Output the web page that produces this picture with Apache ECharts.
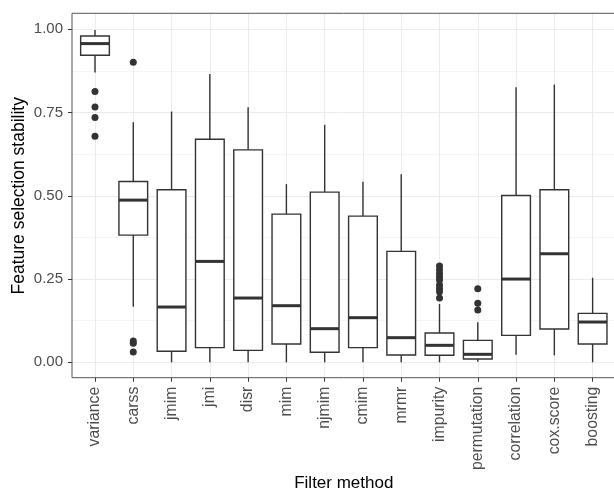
<!DOCTYPE html>
<html>
<head>
<meta charset="utf-8">
<script src="https://cdn.jsdelivr.net/npm/echarts@6/dist/echarts.min.js"></script>
<style>
  html, body { margin: 0; padding: 0; background: #fff; }
  #chart { width: 614px; height: 489px; }
</style>
</head>
<body>
<div id="chart"></div>
<script>
// filter methods on the x axis
var categories = ['variance', 'carss', 'jmim', 'jmi', 'disr', 'mim', 'njmim', 'cmim', 'mrmr',
  'impurity', 'permutation', 'correlation', 'cox.score', 'boosting']

// box statistics
var whiskerLow = [0.870, 0.167, 0.000, 0.000, 0.000, 0.000, 0.000, 0.000, 0.000, 0.000, 0.002, 0.023, 0.021, 0.000]
var lowerQuartile = [0.922, 0.382, 0.033, 0.044, 0.036, 0.055, 0.030, 0.044, 0.022, 0.021, 0.010, 0.081, 0.100, 0.055]
var medians = [0.957, 0.487, 0.166, 0.303, 0.193, 0.170, 0.101, 0.134, 0.074, 0.051, 0.024, 0.250, 0.326, 0.121]
var upperQuartile = [0.980, 0.543, 0.518, 0.670, 0.638, 0.445, 0.511, 0.439, 0.333, 0.088, 0.066, 0.501, 0.518, 0.147]
var whiskerHigh = [0.998, 0.721, 0.753, 0.866, 0.766, 0.535, 0.713, 0.542, 0.565, 0.175, 0.120, 0.826, 0.834, 0.254]

// outliers: category name and value
var outlierMethod = ['variance', 'variance', 'variance', 'variance', 'carss', 'carss', 'carss', 'carss',
  'impurity', 'impurity', 'impurity', 'impurity', 'impurity', 'impurity', 'impurity', 'impurity', 'impurity',
  'permutation', 'permutation', 'permutation']
var outlierValue = [0.813, 0.767, 0.735, 0.679, 0.901, 0.064, 0.057, 0.031,
  0.289, 0.278, 0.267, 0.256, 0.247, 0.232, 0.222, 0.212, 0.193,
  0.221, 0.177, 0.157]

var yTicks = [0, 0.25, 0.5, 0.75, 1]

var lineColor = '#333333'
var fontFamily = '"Liberation Sans", Arial, Helvetica, sans-serif'

var boxData = categories.map(function (c, i) {
  return [i, whiskerLow[i], lowerQuartile[i], medians[i], upperQuartile[i], whiskerHigh[i]]
})
var outlierData = outlierMethod.map(function (m, i) {
  return [categories.indexOf(m), outlierValue[i]]
})

function renderBox (params, api) {
  var idx = api.value(0)
  var band = api.size([1, 0])[0]
  var half = band * 0.375
  var x = api.coord([idx, 0])[0]
  var yLow = api.coord([idx, api.value(1)])[1]
  var yQ1 = api.coord([idx, api.value(2)])[1]
  var yMed = api.coord([idx, api.value(3)])[1]
  var yQ3 = api.coord([idx, api.value(4)])[1]
  var yHigh = api.coord([idx, api.value(5)])[1]
  var stroke = { stroke: lineColor, lineWidth: 1.4, fill: null }
  return {
    type: 'group',
    children: [
      { type: 'line', shape: { x1: x, y1: yQ3, x2: x, y2: yHigh }, style: stroke },
      { type: 'line', shape: { x1: x, y1: yQ1, x2: x, y2: yLow }, style: stroke },
      { type: 'rect', shape: { x: x - half, y: yQ3, width: half * 2, height: yQ1 - yQ3 },
        style: { fill: '#ffffff', stroke: lineColor, lineWidth: 1.4 } },
      { type: 'line', shape: { x1: x - half, y1: yMed, x2: x + half, y2: yMed },
        style: { stroke: lineColor, lineWidth: 3 } }
    ]
  }
}

var chart = echarts.init(document.getElementById('chart'))
chart.setOption({
  animation: false,
  backgroundColor: '#ffffff',
  textStyle: { fontFamily: fontFamily },
  grid: [
    // panel border
    { left: 72, top: 13.3, width: 543.6, height: 364.4, show: true, borderColor: '#555555', borderWidth: 1,
      backgroundColor: 'transparent', z: 3, outerBoundsMode: 'none', containLabel: false },
    // y scale 0..1 with horizontal grid lines
    { left: 72, top: 29.3, width: 543.6, height: 333, outerBoundsMode: 'none', containLabel: false },
    // boxes and category axis
    { left: 75.86, top: 13.3, width: 535.9, height: 364.4, outerBoundsMode: 'none', containLabel: false }
  ],
  xAxis: [
    { gridIndex: 0, type: 'value', show: false },
    { gridIndex: 1, type: 'value', show: false },
    {
      gridIndex: 2,
      type: 'category',
      data: categories,
      name: 'Filter method',
      nameLocation: 'middle',
      nameGap: 97,
      nameMoveOverlap: false,
      nameTextStyle: { color: '#000000', fontSize: 17 },
      axisLine: { show: false, onZero: false },
      axisTick: { show: true, alignWithLabel: true, length: 4, lineStyle: { color: lineColor } },
      axisLabel: { rotate: 90, margin: 9, color: '#4d4d4d', fontSize: 15.8, interval: 0 },
      splitLine: { show: true, alignWithLabel: true, lineStyle: { color: '#ebebeb', width: 1 } }
    }
  ],
  yAxis: [
    { gridIndex: 0, type: 'value', show: false },
    {
      gridIndex: 1,
      type: 'value',
      min: 0,
      max: 1,
      interval: 0.25,
      name: 'Feature selection stability',
      nameLocation: 'middle',
      nameGap: 44,
      nameMoveOverlap: false,
      nameTextStyle: { color: '#000000', fontSize: 17.5 },
      axisLine: { show: false },
      axisTick: { show: true, length: 4, lineStyle: { color: lineColor } },
      axisLabel: {
        margin: 9,
        color: '#4d4d4d',
        fontSize: 15,
        formatter: function (v) { return yTicks.indexOf(v) >= 0 ? v.toFixed(2) : '' }
      },
      splitLine: { show: true, lineStyle: { color: '#ebebeb', width: 1 } },
      minorTick: { show: false, splitNumber: 2 },
      minorSplitLine: { show: true, lineStyle: { color: '#f2f2f2', width: 0.8 } }
    },
    { gridIndex: 2, type: 'value', min: -0.0462, max: 1.048, show: false }
  ],
  series: [
    {
      type: 'custom',
      name: 'box',
      xAxisIndex: 2,
      yAxisIndex: 2,
      renderItem: renderBox,
      encode: { x: 0, y: [1, 2, 3, 4, 5] },
      data: boxData,
      z: 2
    },
    {
      type: 'scatter',
      name: 'outliers',
      xAxisIndex: 2,
      yAxisIndex: 2,
      symbol: 'circle',
      symbolSize: 7,
      itemStyle: { color: lineColor, opacity: 1 },
      data: outlierData,
      z: 3
    }
  ]
})
</script>
</body>
</html>
